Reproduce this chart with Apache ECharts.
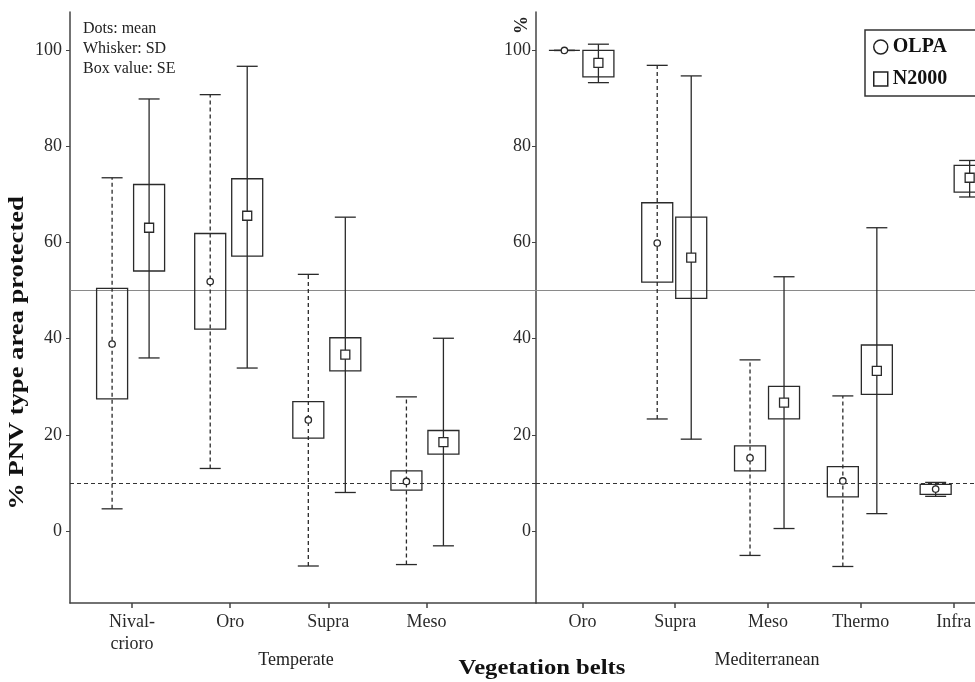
<!DOCTYPE html>
<html>
<head>
<meta charset="utf-8">
<script src="https://cdn.jsdelivr.net/npm/echarts@6/dist/echarts.min.js"></script>
<style>
html,body{margin:0;padding:0;background:#fff;}
#chart{width:975px;height:682px;}
</style>
</head>
<body>
<div id="chart"></div>
<script>
// ---- Data ----
const temperateCats = ['Nival-\ncrioro', 'Oro', 'Supra', 'Meso'];
const mediterraneanCats = ['Oro', 'Supra', 'Meso', 'Thermo', 'Infra'];
const yTickValues = [0, 20, 40, 60, 80, 100];

// Temperate – OLPA
const olpaTempMean      = [38.9, 51.9, 23.1, 10.3];
const olpaTempSeLow     = [27.5, 42.0, 19.3, 8.5];
const olpaTempSeHigh    = [50.5, 61.9, 26.9, 12.5];
const olpaTempSdLow     = [4.6, 13.0, -7.3, -7.0];
const olpaTempSdHigh    = [73.5, 90.8, 53.4, 27.9];
// Temperate – N2000
const n2kTempMean       = [63.1, 65.6, 36.7, 18.5];
const n2kTempSeLow      = [54.1, 57.2, 33.3, 16.0];
const n2kTempSeHigh     = [72.1, 73.3, 40.2, 20.9];
const n2kTempSdLow      = [36.0, 33.9, 8.0, -3.1];
const n2kTempSdHigh     = [89.9, 96.7, 65.3, 40.1];
// Mediterranean – OLPA
const olpaMedMean       = [100, 59.9, 15.2, 10.4, 8.7];
const olpaMedSeLow      = [100, 51.8, 12.5, 7.1, 7.6];
const olpaMedSeHigh     = [100, 68.3, 17.7, 13.4, 9.7];
const olpaMedSdLow      = [100, 23.3, -5.1, -7.4, 7.2];
const olpaMedSdHigh     = [100, 96.9, 35.6, 28.1, 10.1];
// Mediterranean – N2000
const n2kMedMean        = [97.4, 56.9, 26.7, 33.3, 73.5];
const n2kMedSeLow       = [94.5, 48.4, 23.3, 28.4, 70.5];
const n2kMedSeHigh      = [100, 65.3, 30.1, 38.7, 76.1];
const n2kMedSdLow       = [93.3, 19.1, 0.5, 3.6, 69.5];
const n2kMedSdHigh      = [101.3, 94.7, 52.9, 63.1, 77.1];

const refSolid = 50;
const refDashed = 10;

// ---- Build ----
function rows(mean, seL, seH, sdL, sdH) {
  return mean.map((m, i) => [i, m, seL[i], seH[i], sdL[i], sdH[i]]);
}
const FONT = '"Liberation Serif", "Times New Roman", serif';
const INK = '#2a2a2a';

function boxRenderer(offset, dashed, square) {
  return function (params, api) {
    const x = api.value(0);
    const pm = api.coord([x, api.value(1)]);
    const cx = pm[0] + offset;
    const ym = pm[1];
    const ySeL = api.coord([x, api.value(2)])[1];
    const ySeH = api.coord([x, api.value(3)])[1];
    const ySdL = api.coord([x, api.value(4)])[1];
    const ySdH = api.coord([x, api.value(5)])[1];
    const lw = 1.3, hb = 15.5, hc = 10.5;
    const ls = { stroke: INK, lineWidth: lw };
    const children = [
      { type: 'line', shape: { x1: cx, y1: ySdL, x2: cx, y2: ySdH },
        style: Object.assign({}, ls, dashed ? { lineDash: [4, 3] } : {}) },
      { type: 'line', shape: { x1: cx - hc, y1: ySdH, x2: cx + hc, y2: ySdH }, style: ls },
      { type: 'line', shape: { x1: cx - hc, y1: ySdL, x2: cx + hc, y2: ySdL }, style: ls },
      { type: 'rect', shape: { x: cx - hb, y: ySeH, width: 2 * hb, height: Math.max(ySeL - ySeH, 0) },
        style: { fill: 'transparent', stroke: INK, lineWidth: lw } }
    ];
    if (square) {
      children.push({ type: 'rect', shape: { x: cx - 4.5, y: ym - 4.5, width: 9, height: 9 },
        style: { fill: '#fff', stroke: INK, lineWidth: lw } });
    } else {
      children.push({ type: 'circle', shape: { cx: cx, cy: ym, r: 3.2 },
        style: { fill: '#fff', stroke: INK, lineWidth: lw } });
    }
    return { type: 'group', children: children };
  };
}

const refMarkLine = {
  silent: true, symbol: 'none', z: 1,
  label: { show: false },
  data: [
    { yAxis: refSolid, lineStyle: { color: '#8a8a8a', width: 1, type: 'solid' } },
    { yAxis: refDashed, lineStyle: { color: '#333', width: 1, type: [4, 3] } }
  ]
};

function xAxisCfg(gridIndex, cats, min, max) {
  const idx = cats.map((c, i) => i);
  return {
    type: 'value', gridIndex: gridIndex, min: min, max: max,
    splitLine: { show: false },
    axisLine: { show: true, onZero: false, lineStyle: { color: '#444', width: 1.5 } },
    axisTick: { show: true, customValues: idx, length: 5, lineStyle: { color: '#444', width: 1.5 } },
    axisLabel: {
      customValues: idx, margin: 8,
      formatter: v => cats[Math.round(v)],
      fontFamily: FONT, fontSize: 18, color: '#2a2a2a', lineHeight: 22
    }
  };
}
function yAxisCfg(gridIndex, margin) {
  return {
    type: 'value', gridIndex: gridIndex, min: -15, max: 108,
    splitLine: { show: false },
    axisLine: { show: true, onZero: false, lineStyle: { color: '#444', width: 1.5 } },
    axisTick: { show: true, customValues: yTickValues, length: 4, lineStyle: { color: '#444', width: 1 } },
    axisLabel: { customValues: yTickValues, margin: margin, fontFamily: FONT, fontSize: 18, color: '#2a2a2a' }
  };
}

const chart = echarts.init(document.getElementById('chart'), null, { renderer: 'canvas' });
chart.setOption({
  backgroundColor: '#fff',
  animation: false,
  grid: [
    { left: 70, top: 12, width: 466, bottom: 79 },
    { left: 536, top: 12, right: 0, bottom: 79 }
  ],
  xAxis: [
    xAxisCfg(0, temperateCats, -0.633, 4.117),
    xAxisCfg(1, mediterraneanCats, -0.5, 4.23)
  ],
  yAxis: [yAxisCfg(0, 8), yAxisCfg(1, 5)],
  legend: {
    orient: 'vertical', left: 865, top: 30,
    padding: [7, 60, 7, 8], itemGap: 12,
    itemWidth: 14, itemHeight: 14,
    borderColor: '#333', borderWidth: 1.5, backgroundColor: '#fff',
    textStyle: { fontFamily: FONT, fontWeight: 'bold', fontSize: 20, color: '#111' },
    data: [
      { name: 'OLPA', icon: 'circle', itemStyle: { color: '#fff', borderColor: '#222', borderWidth: 1.5 } },
      { name: 'N2000', icon: 'rect', itemStyle: { color: '#fff', borderColor: '#222', borderWidth: 1.5 } }
    ]
  },
  series: [
    { name: 'OLPA', type: 'custom', xAxisIndex: 0, yAxisIndex: 0, z: 3,
      itemStyle: { color: '#222' },
      renderItem: boxRenderer(-20, true, false),
      encode: { x: 0, y: [1, 2, 3, 4, 5] },
      data: rows(olpaTempMean, olpaTempSeLow, olpaTempSeHigh, olpaTempSdLow, olpaTempSdHigh),
      markLine: refMarkLine },
    { name: 'N2000', type: 'custom', xAxisIndex: 0, yAxisIndex: 0, z: 3,
      itemStyle: { color: '#222' },
      renderItem: boxRenderer(17, false, true),
      encode: { x: 0, y: [1, 2, 3, 4, 5] },
      data: rows(n2kTempMean, n2kTempSeLow, n2kTempSeHigh, n2kTempSdLow, n2kTempSdHigh) },
    { name: 'OLPA', type: 'custom', xAxisIndex: 1, yAxisIndex: 1, z: 3,
      itemStyle: { color: '#222' },
      renderItem: boxRenderer(-18, true, false),
      encode: { x: 0, y: [1, 2, 3, 4, 5] },
      data: rows(olpaMedMean, olpaMedSeLow, olpaMedSeHigh, olpaMedSdLow, olpaMedSdHigh),
      markLine: refMarkLine },
    { name: 'N2000', type: 'custom', xAxisIndex: 1, yAxisIndex: 1, z: 3,
      itemStyle: { color: '#222' },
      renderItem: boxRenderer(16, false, true),
      encode: { x: 0, y: [1, 2, 3, 4, 5] },
      data: rows(n2kMedMean, n2kMedSeLow, n2kMedSeHigh, n2kMedSdLow, n2kMedSdHigh) }
  ],
  graphic: [
    { type: 'text', x: 18, y: 353, rotation: Math.PI / 2, scaleX: 1.33,
      style: { text: '% PNV type area protected', font: 'bold 20px ' + FONT, fill: '#111',
               align: 'center', verticalAlign: 'middle' } },
    { type: 'text', x: 522, y: 25, rotation: Math.PI / 2,
      style: { text: '%', font: 'bold 18px ' + FONT, fill: '#222', align: 'center', verticalAlign: 'middle' } },
    { type: 'text', x: 83, y: 19,
      style: { text: 'Dots: mean\nWhisker: SD\nBox value: SE', font: '16px ' + FONT, lineHeight: 20,
               fill: '#222', align: 'left', verticalAlign: 'top' } },
    { type: 'text', x: 296, y: 660,
      style: { text: 'Temperate', font: '18px ' + FONT, fill: '#222', align: 'center', verticalAlign: 'middle' } },
    { type: 'text', x: 767, y: 660,
      style: { text: 'Mediterranean', font: '18px ' + FONT, fill: '#222', align: 'center', verticalAlign: 'middle' } },
    { type: 'text', x: 542, y: 668, scaleX: 1.12,
      style: { text: 'Vegetation belts', font: 'bold 22px ' + FONT, fill: '#111', align: 'center', verticalAlign: 'middle' } }
  ]
});
</script>
</body>
</html>
